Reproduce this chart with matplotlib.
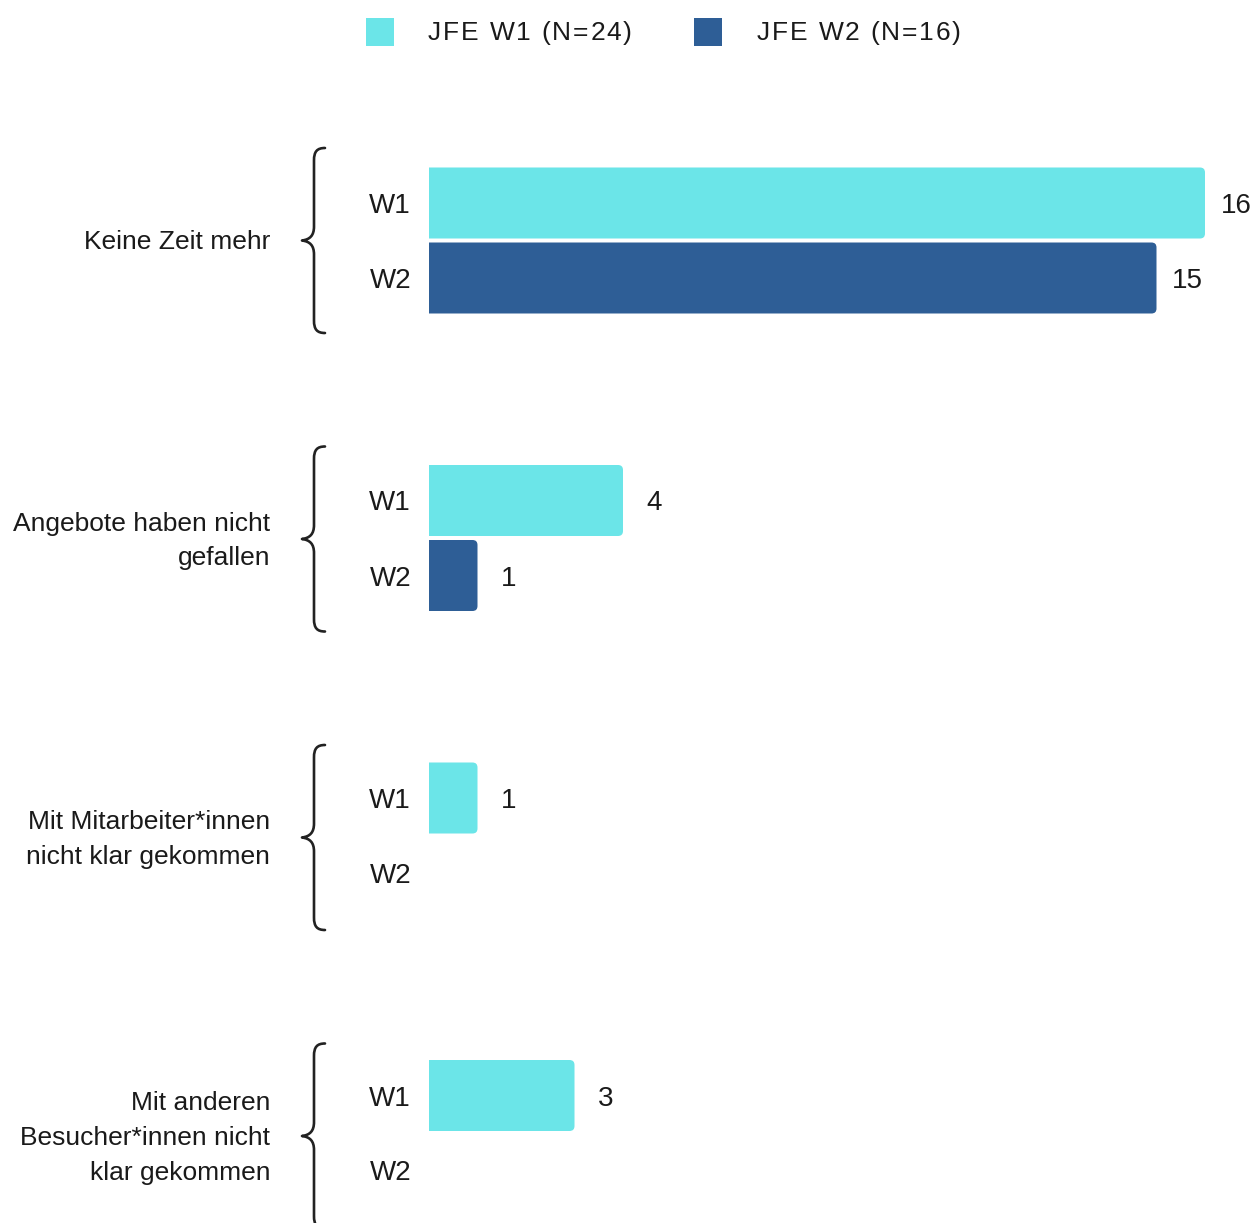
import matplotlib.pyplot as plt
from matplotlib.patches import Rectangle, PathPatch
from matplotlib.path import Path
from matplotlib.font_manager import findfont, FontProperties
from matplotlib.ft2font import FT2Font

plt.rcParams["font.family"] = ["Liberation Sans", "DejaVu Sans"]
plt.rcParams["text.color"] = "#1a1a1a"

# Reasons for leaving, counts per wave
CATEGORIES = [
    "Keine Zeit mehr",
    "Angebote haben nicht\ngefallen",
    "Mit Mitarbeiter*innen\nnicht klar gekommen",
    "Mit anderen\nBesucher*innen nicht\nklar gekommen",
]
WAVES = ["W1", "W2"]
W1_VALUES = [16, 4, 1, 3]
W2_VALUES = [15, 1, 0, 0]
LEGEND_LABELS = ["JFE W1 (N=24)", "JFE W2 (N=16)"]
COLORS = ["#6be5e8", "#2e5e96"]

W, H = 1259, 1223
PX_X = 48.5    # pixels per count
PX_Y = 297.5   # pixels per category block
X0 = 429       # bar baseline (px)
Y0 = 240.5     # centre of first block (px)
FS = 19

fig = plt.figure(figsize=(W / 100, H / 100), dpi=100)
fig.patch.set_facecolor("white")
ax = fig.add_axes([0, 0, 1, 1])
ax.set_xlim(-X0 / PX_X, (W - X0) / PX_X)
ax.set_ylim((H - Y0) / PX_Y, -Y0 / PX_Y)
ax.axis("off")

offset = 37.5 / PX_Y
bar_h = 71 / PX_Y
rx, ry = 5 / PX_X, 5 / PX_Y
label_step = 298.5 / PX_Y   # braces/labels drift slightly from the bars


def px(dx):
    return dx / PX_X


def bar(y, v, color):
    # flat left end, rounded right corners
    y0, y1, x1 = y - bar_h / 2, y + bar_h / 2, v
    verts = [(0, y0), (x1 - rx, y0), (x1, y0), (x1, y0 + ry),
             (x1, y1 - ry), (x1, y1), (x1 - rx, y1), (0, y1), (0, y0)]
    codes = [Path.MOVETO, Path.LINETO, Path.CURVE3, Path.CURVE3,
             Path.LINETO, Path.CURVE3, Path.CURVE3, Path.LINETO, Path.CLOSEPOLY]
    ax.add_patch(PathPatch(Path(verts, codes), fc=color, ec="none"))


def brace(yc):
    pts = [(325, -92.5), (317, -92.5), (314, -89), (314, -80),
           (314, -14),
           (314, -5), (310, -1), (302, 0),
           (310, 1), (314, 5), (314, 14),
           (314, 80),
           (314, 89), (317, 92.5), (325, 92.5)]
    codes = [Path.MOVETO, Path.CURVE4, Path.CURVE4, Path.CURVE4,
             Path.LINETO,
             Path.CURVE4, Path.CURVE4, Path.CURVE4,
             Path.CURVE4, Path.CURVE4, Path.CURVE4,
             Path.LINETO,
             Path.CURVE4, Path.CURVE4, Path.CURVE4]
    verts = [((x - X0) / PX_X, yc + y / PX_Y) for x, y in pts]
    ax.add_patch(PathPatch(Path(verts, codes), fc="none", ec="#222222",
                           lw=1.9, capstyle="round", joinstyle="round"))


def tracked_text(x, y, s, size, track):
    # letter-spaced text, x/y in pixels from the top-left corner
    font = FT2Font(findfont(FontProperties(family="Liberation Sans")))
    font.set_size(size, 100)
    for ch in s:
        if ch != " ":
            fig.text(x / W, 1 - y / H, ch, fontsize=size, ha="left", va="baseline")
        x += font.load_char(ord(ch)).linearHoriAdvance / 65536 + track


for i, (cat, vals) in enumerate(zip(CATEGORIES, zip(W1_VALUES, W2_VALUES))):
    yl = i * label_step
    ax.text(px(270 - X0), yl + 2 / PX_Y, cat, ha="right", va="center",
            multialignment="right", fontsize=FS, linespacing=1.56)
    brace(yl)
    for j, v in enumerate(vals):
        y = i + (2 * j - 1) * offset
        ax.text(px(-18), y, WAVES[j], ha="right", va="center_baseline", fontsize=20)
        if v == 0:
            continue
        bar(y, v, COLORS[j])
        ax.text(v + px(31), y, str(v), ha="center", va="center_baseline", fontsize=20)

# legend
for (sx, tx), label, color in zip([(366, 428), (694, 757)], LEGEND_LABELS, COLORS):
    fig.add_artist(Rectangle((sx / W, 1 - 46 / H), 28 / W, 28 / H,
                             transform=fig.transFigure, fc=color, ec="none"))
    tracked_text(tx, 40, label, FS, 1.8)

fig.savefig("out.png", dpi=100, facecolor="white")
